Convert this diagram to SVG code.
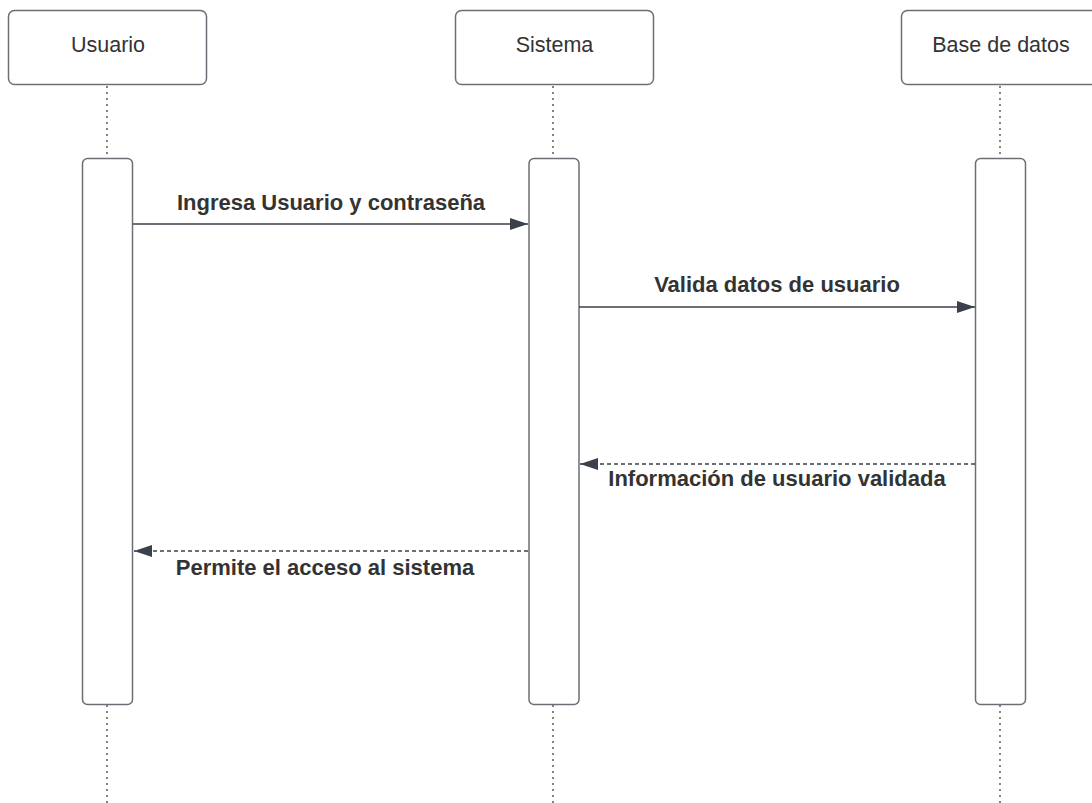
<svg xmlns="http://www.w3.org/2000/svg" width="1092" height="803" viewBox="0 0 1092 803">
<style>
.box{fill:#fff;stroke:#6b6f75;stroke-width:1.5}
.act{fill:#fff;stroke:#6b6f75;stroke-width:1.5}
.life{stroke:#333;stroke-width:1.2;stroke-dasharray:2 4;fill:none}
.hd{font-family:"Liberation Sans",Arial,sans-serif;font-size:21.5px;fill:#333;text-anchor:middle}
.lbl{font-family:"Liberation Sans",Arial,sans-serif;font-size:22px;font-weight:bold;fill:#333;text-anchor:middle}
.msg{stroke:#3a414a;stroke-width:1.3;fill:none}
.ret{stroke:#3a414a;stroke-width:1.3;fill:none;stroke-dasharray:4 3}
</style>
<defs>
<marker id="ah" markerWidth="18" markerHeight="12" refX="18" refY="6" orient="auto" markerUnits="userSpaceOnUse">
<path d="M0,0 L18,6 L0,12 Z" fill="#3a414a"/>
</marker>
</defs>
<rect width="1092" height="803" fill="#fff"/>
<g id="lifelines">
<path class="life" d="M107,86 V158 M107,705 V803 M553,86 V158 M553,705 V803 M1000,86 V158 M1000,705 V803"/>
</g>
<g id="usuario">
<rect class="box" x="8.5" y="10.5" width="198" height="74" rx="6"/>
<text class="hd" x="108" y="52">Usuario</text>
<rect class="act" x="82.5" y="158.5" width="50" height="546" rx="5"/>
</g>
<g id="sistema">
<rect class="box" x="455.5" y="10.5" width="198" height="74" rx="6"/>
<text class="hd" x="554.5" y="52">Sistema</text>
<rect class="act" x="529" y="158.5" width="50" height="546" rx="5"/>
</g>
<g id="basedatos">
<rect class="box" x="901.5" y="10.5" width="198" height="74" rx="6"/>
<text class="hd" x="1001" y="52">Base de datos</text>
<rect class="act" x="975.5" y="158.5" width="50" height="546" rx="5"/>
</g>
<g id="connectors">
<line class="msg" x1="133" y1="224" x2="528" y2="224" marker-end="url(#ah)"/>
<line class="msg" x1="579" y1="307" x2="975" y2="307" marker-end="url(#ah)"/>
<line class="ret" x1="975" y1="464" x2="580" y2="464" marker-end="url(#ah)"/>
<line class="ret" x1="528" y1="551" x2="134" y2="551" marker-end="url(#ah)"/>
<text class="lbl" x="331" y="210">Ingresa Usuario y contraseña</text>
<text class="lbl" x="777" y="292">Valida datos de usuario</text>
<text class="lbl" x="777" y="486">Información de usuario validada</text>
<text class="lbl" x="325" y="575">Permite el acceso al sistema</text>
</g>
</svg>
